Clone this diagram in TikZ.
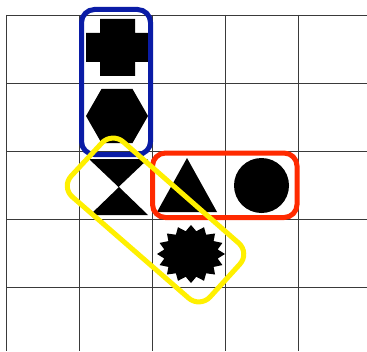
\documentclass[tikz,border=0pt]{standalone}
\usepackage{xcolor}
\usepackage{tikz}
\usetikzlibrary{calc}
\definecolor{gridline}{HTML}{3A3A3A}
\definecolor{groupblue}{HTML}{0A1CA6}
\definecolor{groupred}{HTML}{FF2A00}
\definecolor{groupyellow}{HTML}{FFF000}

\begin{document}
\begin{tikzpicture}[x=0.02cm, y=-0.02cm,
  grouping/.style={line width=0.1cm, rounded corners=0.26cm}]
\useasboundingbox (0,0) rectangle (367,351);
\fill[white] (0,0) rectangle (367,351);

% Grid
\foreach \gx in {6,79,152,225,298}
  \draw[gridline, line width=0.45pt] (\gx,15) -- (\gx,351);
\foreach \gy in {15,83,151,219,287}
  \draw[gridline, line width=0.45pt] (6,\gy) -- (367,\gy);

% Cross
\fill[black] (100,19) -- (135,19) -- (135,33) -- (148,33) -- (148,62) -- (135,62)
  -- (135,76) -- (100,76) -- (100,62) -- (86,62) -- (86,33) -- (100,33) -- cycle;

% Hexagon
\fill[black] (86,116) -- (101.5,89) -- (132.5,89) -- (148,116) -- (132.5,143) -- (101.5,143) -- cycle;

% Hourglass
\fill[black] (89,159) -- (148,159) -- (118.5,187) -- cycle;
\fill[black] (90,215) -- (148,215) -- (119,187) -- cycle;

% Triangle
\fill[black] (187,158) -- (217,212) -- (157,212) -- cycle;

% Circle
\fill[black] (261.5,185.5) circle[radius=27.5];

% Starburst
\fill[black, shift={(191,254)}] (90:34 and 29)
  \foreach \k [evaluate=\k as \r using {mod(\k,2)==0 ? 1 : 0.8}] in {1,...,31} {
    -- ({90+\k*11.25}:{34*\r} and {29*\r})
  } -- cycle;

% Groups
\draw[grouping, groupblue] (81.5,9.5) rectangle (150.5,154.5);
\draw[grouping, groupred] (152.5,153) rectangle (297,217.5);
\draw[grouping, groupyellow, rounded corners=0.3cm]
  (61,187) -- (112,132) -- (250,253) -- (200,308) -- cycle;
\end{tikzpicture}
\end{document}
